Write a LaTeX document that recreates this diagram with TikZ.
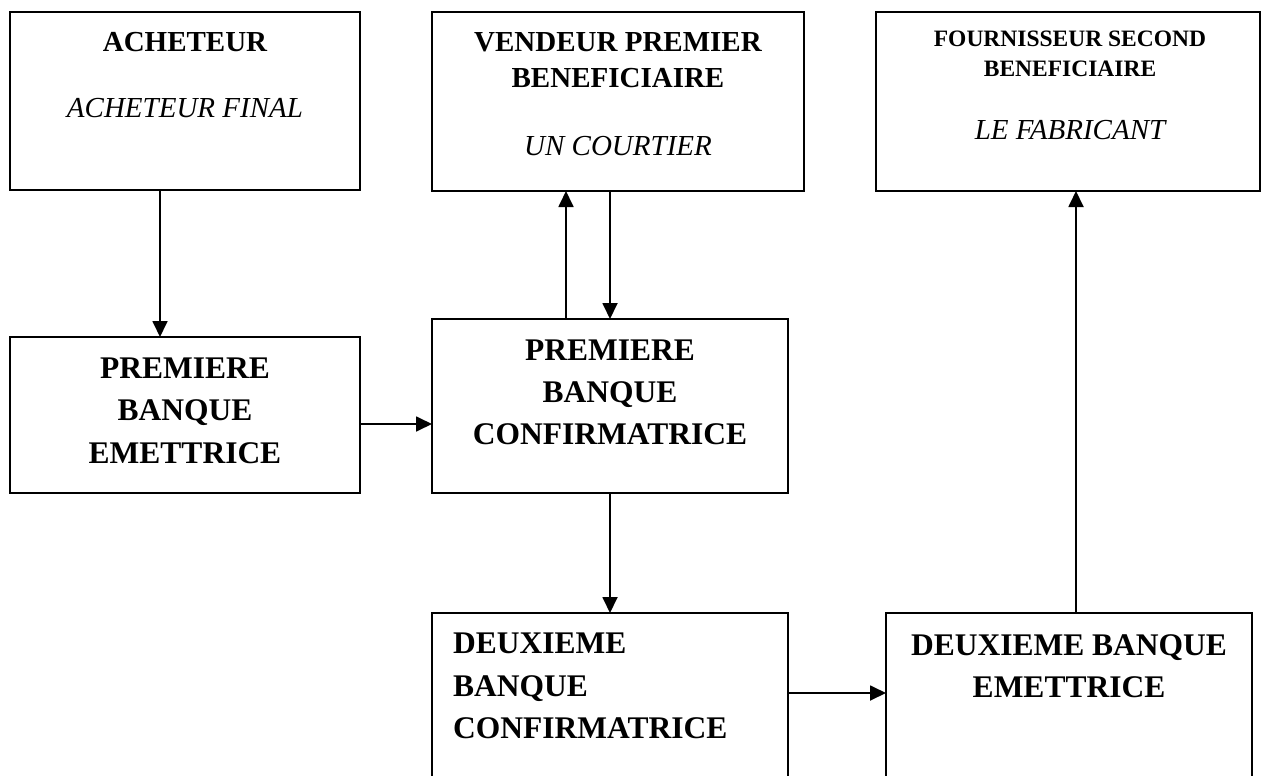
\documentclass[tikz,border=0pt]{standalone}
\usepackage{fontspec}
\setmainfont{Liberation Serif}
\usetikzlibrary{arrows.meta}
\tikzset{
  box/.style={draw, line width=1.8pt, inner sep=0pt, outer sep=0pt, anchor=north west},
  arr/.style={line width=1.8pt, -{Triangle[length=16pt,width=15pt]}},
  lbl/.style={inner sep=0pt, anchor=base},
  lblw/.style={inner sep=0pt, anchor=base west},
  tb/.style={font=\fontsize{29}{34}\selectfont\bfseries},
  ti/.style={font=\fontsize{29}{34}\selectfont\itshape},
  tf/.style={font=\fontsize{23.5}{28}\selectfont\bfseries},
  bb/.style={font=\fontsize{31.5}{38}\selectfont\bfseries}
}
\begin{document}
\begin{tikzpicture}[x=1pt,y=-1pt]
\useasboundingbox (0,0) rectangle (1261,776);
\clip (0,0) rectangle (1261,776);
% boxes
\node[box, minimum width=350pt, minimum height=178pt] (A) at (10,12) {};
\node[box, minimum width=372pt, minimum height=179pt] (V) at (432,12) {};
\node[box, minimum width=384pt, minimum height=179pt] (F) at (876,12) {};
\node[box, minimum width=350pt, minimum height=156pt] (PBE) at (10,337) {};
\node[box, minimum width=356pt, minimum height=174pt] (PBC) at (432,319) {};
\node[box, minimum width=356pt, minimum height=200pt] (DBC) at (432,613) {};
\node[box, minimum width=366pt, minimum height=200pt] (DBE) at (886,613) {};
% texts
\node[lbl, tb] (A1) at (185,52) {ACHETEUR};
\node[lbl, ti] (A2) at (185,117) {ACHETEUR FINAL};
\node[lbl, tb] (V1) at (618,52) {VENDEUR PREMIER};
\node[lbl, tb] (V2) at (618,88) {BENEFICIAIRE};
\node[lbl, ti] (V3) at (618,155) {UN COURTIER};
\node[lbl, tf] (F1) at (1070,47) {FOURNISSEUR SECOND};
\node[lbl, tf] (F2) at (1070,77) {BENEFICIAIRE};
\node[lbl, ti] (F3) at (1070,139) {LE FABRICANT};
\node[lbl, bb] (P1) at (185,378) {PREMIERE};
\node[lbl, bb] (P2) at (185,420) {BANQUE};
\node[lbl, bb] (P3) at (185,463) {EMETTRICE};
\node[lbl, bb] (C1) at (610,360) {PREMIERE};
\node[lbl, bb] (C2) at (610,402) {BANQUE};
\node[lbl, bb] (C3) at (610,444) {CONFIRMATRICE};
\node[lblw, bb] (D1) at (453,653) {DEUXIEME};
\node[lblw, bb] (D2) at (453,696) {BANQUE};
\node[lblw, bb] (D3) at (453,738) {CONFIRMATRICE};
\node[lbl, bb] (E1) at (1069,655) {DEUXIEME BANQUE};
\node[lbl, bb] (E2) at (1069,697) {EMETTRICE};
% connectors
\coordinate (a1) at ([xshift=-25pt]A.south);
\draw[arr] (a1) -- (a1 |- PBE.north);
\coordinate (c1) at ([xshift=-44pt]PBC.north);
\draw[arr] (c1) -- (c1 |- V.south);
\draw[arr] (PBC.north |- V.south) -- (PBC.north);
\coordinate (e1) at ([yshift=-9pt]PBE.east);
\draw[arr] (e1) -- (e1 -| PBC.west);
\draw[arr] (PBC.south) -- (DBC.north);
\coordinate (d1) at ([yshift=-80pt]DBC.north east);
\draw[arr] (d1) -- (d1 -| DBE.west);
\coordinate (f1) at ([xshift=7pt]DBE.north);
\draw[arr] (f1) -- (f1 |- F.south);
\end{tikzpicture}
\end{document}
